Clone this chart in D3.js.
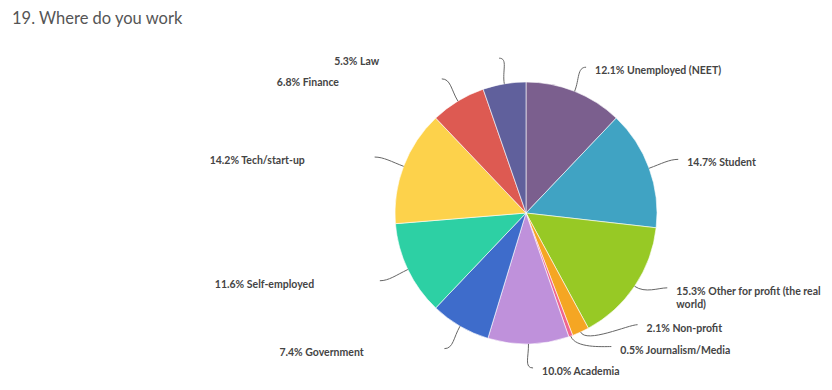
<!DOCTYPE html>
<html>
<head>
<meta charset="utf-8">
<script src="https://cdn.jsdelivr.net/npm/d3@7"></script>
<style>
  body { margin: 0; background: #fff; }
  svg { display: block; font-family: Lato, "Open Sans", sans-serif; }
</style>
</head>
<body>
<script>
// data, clockwise from 12 o'clock
const categories = [
  "Unemployed (NEET)", "Student", "Other for profit (the real world)",
  "Non-profit", "Journalism/Media", "Academia", "Government",
  "Self-employed", "Tech/start-up", "Finance", "Law"
];
const shares = [12.1, 14.7, 15.3, 2.1, 0.5, 10.0, 7.4, 11.6, 14.2, 6.8, 5.3];
const colors = [
  "#7b5f8e", "#40a3c3", "#97c925", "#f5a623", "#f0668f", "#bf91db",
  "#3e6ccb", "#2dd0a4", "#fdd24b", "#dd5a52", "#60609c"
];

const width = 832, height = 390;
const cx = 526, cy = 213, radius = 131;
const distX = 31, distY = 26; // connector reach past the rim
const labelBox = 155;          // label box width (left labels are left-aligned in it)
// labels pushed around to avoid overlap, like the original: [dx, dy]
const nudge = { 2: [7, -13], 3: [44, -31], 4: [30, -14], 5: [4, -2] };

const svg = d3.select("body").append("svg")
  .attr("width", width)
  .attr("height", height);

svg.append("text")
  .attr("x", 12)
  .attr("y", 24)
  .attr("fill", "#555")
  .style("font-size", "16.5px")
  .text("19. Where do you work");

const data = categories.map((c, i) => ({ name: c, value: shares[i], color: colors[i], i }));

const pie = d3.pie().value(d => d.value).sort(null);
const arcs = pie(data);
const arc = d3.arc().innerRadius(0).outerRadius(radius);

const g = svg.append("g").attr("transform", `translate(${cx},${cy})`);

g.selectAll("path.slice")
  .data(arcs)
  .enter()
  .append("path")
  .attr("class", "slice")
  .attr("d", arc)
  .attr("fill", d => d.data.color)
  .attr("stroke", "#fff")
  .attr("stroke-width", 0.6)
  .attr("stroke-linejoin", "round");

const labels = arcs.map(d => {
  const mid = (d.startAngle + d.endAngle) / 2;
  const sx = Math.sin(mid), sy = -Math.cos(mid);
  const s = [sx * radius, sy * radius];
  const c1 = [sx * (radius + 13), sy * (radius + 13)];
  const e = [sx * (radius + distX), sy * (radius + distY)];
  const n = nudge[d.data.i] || [0, 0];
  e[0] += n[0];
  e[1] += n[1];
  const right = mid < Math.PI;
  const c2 = [e[0] + (right ? -9 : 9), e[1]];
  return { d, s, c1, c2, e, right };
});

g.selectAll("path.connector")
  .data(labels)
  .enter()
  .append("path")
  .attr("class", "connector")
  .attr("fill", "none")
  .attr("stroke", "#666")
  .attr("stroke-width", 1)
  .attr("d", l => `M${l.s[0]},${l.s[1]} C${l.c1[0]},${l.c1[1]} ${l.c2[0]},${l.c2[1]} ${l.e[0]},${l.e[1]}`);

const texts = g.selectAll("text.label")
  .data(labels)
  .enter()
  .append("text")
  .attr("class", "label")
  .attr("x", l => l.right ? l.e[0] + 9 : l.e[0] - 10 - labelBox)
  .attr("y", l => l.e[1] + 7)
  .attr("fill", "#444")
  .style("font-size", "10.5px")
  .style("font-weight", "bold");

// wrap label text into the label box
texts.each(function (l) {
  const t = d3.select(this);
  const words = (l.d.value.toFixed(1) + "% " + l.d.data.name).split(" ");
  const x = t.attr("x");
  let line = [];
  let tspan = t.append("tspan").attr("x", x);
  words.forEach(w => {
    line.push(w);
    tspan.text(line.join(" "));
    if (tspan.node().getComputedTextLength() > labelBox - 8 && line.length > 1) {
      line.pop();
      tspan.text(line.join(" "));
      line = [w];
      tspan = t.append("tspan").attr("x", x).attr("dy", "13").text(w);
    }
  });
});
</script>
</body>
</html>
